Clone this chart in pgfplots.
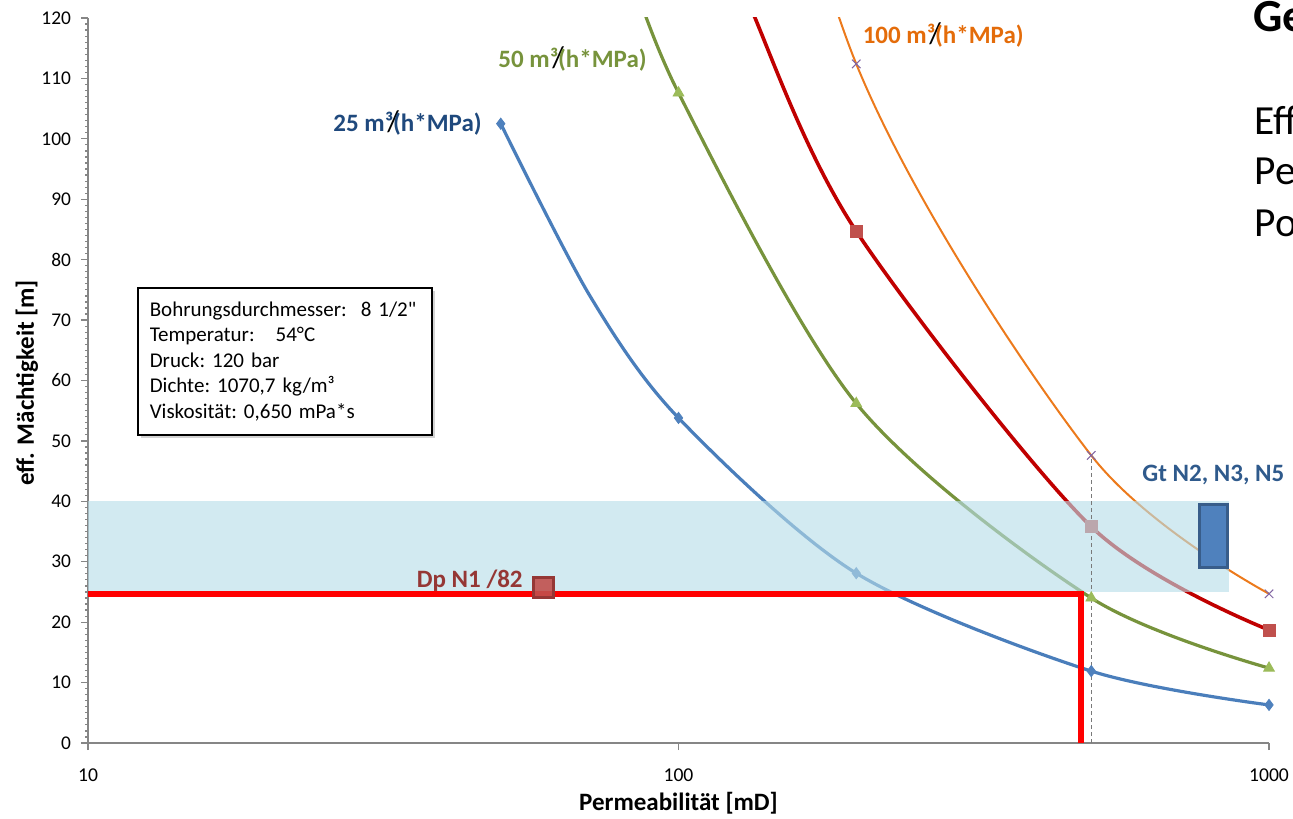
\documentclass[border=0pt]{standalone}
\usepackage{pgfplots}
\pgfplotsset{compat=1.18}
\usepackage{fontspec}
\setmainfont{Carlito}
\usetikzlibrary{shadows}

\definecolor{axisgray}{HTML}{868686}
\definecolor{blueline}{HTML}{4A7EBB}
\definecolor{bluemark}{HTML}{4F81BD}
\definecolor{greenline}{HTML}{77933C}
\definecolor{greenmark}{HTML}{9BBB59}
\definecolor{redline}{HTML}{C00000}
\definecolor{redmark}{HTML}{C0504D}
\definecolor{orangeline}{HTML}{EC7A1C}
\definecolor{purplemark}{HTML}{8064A2}
\definecolor{lab25}{HTML}{1F497D}
\definecolor{lab50}{HTML}{77933C}
\definecolor{lab100}{HTML}{E46C0A}
\definecolor{dpcol}{HTML}{953735}
\definecolor{gtlab}{HTML}{2F5A8C}
\definecolor{gtedge}{HTML}{385D8A}
\definecolor{band}{HTML}{B7DDE8}
% marker colours seen through the translucent band
\definecolor{bluemarkband}{HTML}{90BAD8}
\definecolor{redmarkband}{HTML}{BBA7AD}

% curve traces: permeability [mD] vs. effective thickness [m]
\pgfplotstableread{
k     h
50    102.5
70.8  74.0
100   53.8
200   28.1
500   11.9
1000  6.3
}\ltwentyfive
\pgfplotstableread{
k     h
80    132.5
100   107.6
200   56.2
500   24.0
1000  12.4
}\lfifty
\pgfplotstableread{
k     h
110   146
134.8 120.0
200   84.7
500   35.8
1000  18.7
}\lseventyfive
\pgfplotstableread{
k     h
100   215
200   112.4
500   47.6
1000  24.7
}\lhundred

\newcommand{\pslash}{\makebox[0pt]{\color{black}\fontseries{m}\selectfont\fontsize{15}{15}\selectfont/}}

\begin{document}
\begin{tikzpicture}
\path[use as bounding box] (0pt,0pt) rectangle (646.5pt,409pt);
\clip (0pt,0pt) rectangle (646.5pt,409pt);
\begin{axis}[
  at={(44pt,37.5pt)}, anchor=south west,
  scale only axis, width=590.5pt, height=362.5pt,
  xmode=log, log basis x=10, xmin=10, xmax=1000,
  ymin=0, ymax=120,
  ytick={0,10,...,120}, minor y tick num=9,
  xtick={10,100,1000}, log ticks with fixed point,
  axis x line*=bottom, axis y line*=left,
  axis line style={axisgray, line width=0.9pt},
  tick style={axisgray, line width=0.6pt},
  tick align=outside,
  major tick length=3.5pt, minor tick length=1.5pt,
  /pgf/number format/assume math mode=true,
  /pgf/number format/1000 sep={},
  yticklabel style={font=\fontsize{9.7}{11}\selectfont, text=black, xshift=-1.5pt},
  xticklabel style={font=\fontsize{9.8}{11}\selectfont, text=black, yshift=-6pt},
  xlabel={Permeabilität [mD]},
  ylabel={eff. Mächtigkeit [m]},
  xlabel style={at={(axis description cs:0.5,-0.083)}, anchor=center, font=\bfseries\fontsize{12.5}{14}\selectfont},
  ylabel style={at={(axis description cs:-0.0517,0.497)}, anchor=center, font=\bfseries\fontsize{12.5}{14}\selectfont},
  clip=true,
]
% curves
\addplot[blueline, line width=1.6pt, smooth, tension=0.5] table[x=k, y=h] {\ltwentyfive};
\addplot[greenline, line width=1.6pt, smooth, tension=0.5] table[x=k, y=h] {\lfifty};
\addplot[redline, line width=1.8pt, smooth, tension=0.5] table[x=k, y=h] {\lseventyfive};
\addplot[orangeline, line width=1pt, smooth, tension=0.5] table[x=k, y=h] {\lhundred};

% thickness range 25-40 m
\addplot[draw=none, fill=band, fill opacity=0.62]
  coordinates {(10,25) (855,25) (855,40) (10,40)} -- cycle;

% calculated points
\addplot[bluemark, only marks, mark=diamond*, mark size=2.8pt, mark options={fill=bluemark}]
  coordinates {(50,102.5) (100,53.8) (500,11.9) (1000,6.3)};
\addplot[bluemarkband, only marks, mark=diamond*, mark size=2.8pt, mark options={fill=bluemarkband}]
  coordinates {(200,28.1)};
\addplot[greenmark, only marks, mark=triangle*, mark size=3.1pt, mark options={fill=greenmark}]
  coordinates {(100,107.6) (200,56.2) (500,24.0) (1000,12.4)};
\addplot[redmark, only marks, mark=square*, mark size=3pt, mark options={fill=redmark}]
  coordinates {(200,84.7) (1000,18.7)};
\addplot[redmarkband, only marks, mark=square*, mark size=3pt, mark options={fill=redmarkband}]
  coordinates {(500,35.8)};
\addplot[purplemark, only marks, mark=x, mark size=3pt, mark options={line width=0.5pt}]
  coordinates {(200,112.4) (500,47.6) (1000,24.7)};

% reference line at k = 500 mD
\addplot[axisgray!90!black, line width=0.5pt, dash pattern=on 2pt off 1.5pt]
  coordinates {(500,0) (500,47.6)};

% Dp N1 design point
\addplot[red, line width=3pt, line join=miter]
  coordinates {(10,24.7) (480,24.7) (480,0)};
\addplot[dpcol, only marks, mark=square*, mark size=5pt,
  mark options={fill=redmark, draw=dpcol, line width=1.6pt, fill opacity=0.9}]
  coordinates {(59,25.7)};

% Gt N2, N3, N5 range
\addplot[fill=bluemark, draw=gtedge, line width=1.5pt]
  coordinates {(764,29) (851,29) (851,39.4) (764,39.4)} -- cycle;
\end{axis}

\begin{scope}[x=0.5pt,y=0.5pt]
% curve labels
\node[anchor=base east, text=lab25, font=\bfseries\fontsize{12.5}{14}\selectfont, inner sep=0pt]
  at (482,686) {25 m³\pslash(h*MPa)};
\node[anchor=base east, text=lab50, font=\bfseries\fontsize{12.5}{14}\selectfont, inner sep=0pt]
  at (647,750) {50 m³\pslash(h*MPa)};
\node[anchor=base east, text=lab100, font=\bfseries\fontsize{12.5}{14}\selectfont, inner sep=0pt]
  at (1024,774) {100 m³\pslash(h*MPa)};
\node[anchor=base east, text=dpcol, font=\bfseries\fontsize{12.5}{14}\selectfont, inner sep=0pt]
  at (523,230) {Dp N1 /82};
\node[anchor=base west, text=gtlab, font=\bfseries\fontsize{12.5}{14}\selectfont, inner sep=0pt]
  at (1142,336) {Gt N2, N3, N5};

% parameter box
\node[anchor=north west, draw=black, line width=0.8pt, fill=white,
  drop shadow={shadow xshift=1.5pt, shadow yshift=-1.5pt, opacity=0.35},
  minimum width=147pt, minimum height=73.5pt, inner xsep=6pt, inner ysep=4pt,
  align=left, font=\frenchspacing\fontsize{10.5}{12.75}\selectfont, text width=135pt]
  at (137,531) {\mbox{Bohrungsdurchmesser:~ 8 1/2\textquotedbl}\\
\mbox{Temperatur:~~ 54°C}\\
\mbox{Druck: 120 bar}\\
\mbox{Dichte: 1070,7 kg/m³}\\
\mbox{Viskosität: 0,650 mPa*s}};

% slide text at the right edge
\node[anchor=base west, font=\bfseries\fontsize{23}{26}\selectfont, inner sep=0pt] at (1253,786) {Ge};
\node[anchor=base west, font=\fontsize{20.7}{25}\selectfont, inner sep=0pt] at (1254,683) {Eff};
\node[anchor=base west, font=\fontsize{20.7}{25}\selectfont, inner sep=0pt] at (1254,633) {Pe};
\node[anchor=base west, font=\fontsize{20.7}{25}\selectfont, inner sep=0pt] at (1254,581) {Po};
\end{scope}
\end{tikzpicture}
\end{document}
